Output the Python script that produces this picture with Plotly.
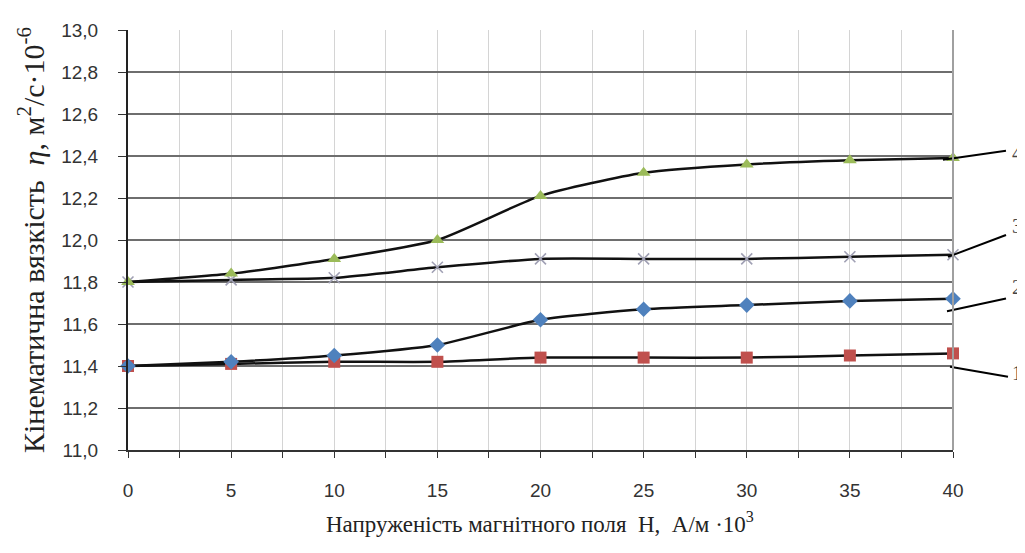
import plotly.graph_objects as go

# ---- data ----
H = [0, 5, 10, 15, 20, 25, 30, 35, 40]
s1 = [11.40, 11.41, 11.42, 11.42, 11.44, 11.44, 11.44, 11.45, 11.46]
s2 = [11.40, 11.42, 11.45, 11.50, 11.62, 11.67, 11.69, 11.71, 11.72]
s3 = [11.80, 11.81, 11.82, 11.87, 11.91, 11.91, 11.91, 11.92, 11.93]
s4 = [11.80, 11.84, 11.91, 12.00, 12.21, 12.32, 12.36, 12.38, 12.39]
curve_labels = ["1", "2", "3", "4"]
y_ticks = [11.0, 11.2, 11.4, 11.6, 11.8, 12.0, 12.2, 12.4, 12.6, 12.8, 13.0]
x_ticks = [0, 5, 10, 15, 20, 25, 30, 35, 40]

# page body has an 8px margin; size the figure so it fills the window
OFF = 8
W, Hh = 1025 - OFF, 553 - OFF
L, R, T, B = 128 - OFF, 72, 26 - OFF, 103
pw, ph = W - L - R, Hh - T - B

def px(x):
    return (x - OFF - L) / pw

def py(y):
    return (Hh - B - (y - OFF)) / ph

fig = go.Figure()

styles = [
    (s1, dict(symbol="square", size=12, color="#C0504D")),
    (s2, dict(symbol="diamond", size=12, color="#4F81BD")),
    (s3, dict(symbol="x-thin-open", size=11, color="#a0a0b4", line=dict(color="#a0a0b4", width=1.6))),
    (s4, dict(symbol="triangle-up", size=12, color="#9BBB59")),
]
for vals, mk in styles:
    fig.add_trace(go.Scatter(
        x=H, y=vals, mode="lines",
        line=dict(color="#111111", width=2.5, shape="spline", smoothing=0.6),
        showlegend=False, hoverinfo="skip"))
for vals, mk in styles:
    fig.add_trace(go.Scatter(
        x=H, y=vals, mode="markers", marker=mk,
        showlegend=False, cliponaxis=False))

# callouts
callouts = [
    ((950, 366), (1008, 376), (1010, 372)),
    ((947, 310), (1006, 297), (1010, 285)),
    ((948, 255), (1006, 233), (1010, 224)),
    ((943, 157), (1006, 148), (1010, 150)),
]
shapes = []
annots = []
for lab, (p0, p1, pt) in zip(curve_labels, callouts):
    shapes.append(dict(type="line", xref="paper", yref="paper",
                       x0=px(p0[0]), y0=py(p0[1]), x1=px(p1[0]), y1=py(p1[1]),
                       line=dict(color="#000000", width=2)))
    annots.append(dict(text=lab, xref="paper", yref="paper", x=px(pt[0]), y=py(pt[1]),
                       xanchor="left", yanchor="middle", showarrow=False,
                       font=dict(family="Liberation Serif", size=20, color="#444444")))

# right border
shapes.append(dict(type="line", xref="paper", yref="paper", x0=1, x1=1, y0=0, y1=1,
                   line=dict(color="#a0a0a0", width=2)))

annots.append(dict(text="Кінематична вязкість  <i>η</i>, м<sup>2</sup>/с·10<sup>-6</sup>",
                   xref="paper", yref="paper", x=px(31), y=py(238), textangle=-90,
                   showarrow=False, xanchor="center", yanchor="middle",
                   font=dict(family="Liberation Serif", size=30, color="#222222")))
annots.append(dict(text="Напруженість магнітного поля  Н,  А/м ·10<sup>3</sup>",
                   xref="paper", yref="paper", x=px(540), y=py(523),
                   showarrow=False, xanchor="center", yanchor="middle",
                   font=dict(family="Liberation Serif", size=23, color="#222222")))

fig.update_layout(
    width=W, height=Hh,
    margin=dict(l=L, r=R, t=T, b=B, pad=0),
    paper_bgcolor="white", plot_bgcolor="white",
    separators=", ",
    shapes=shapes, annotations=annots,
    font=dict(family="Liberation Sans", size=19, color="#333333"),
)
fig.update_xaxes(
    range=[0, 40], tickvals=x_ticks, ticktext=[str(v) for v in x_ticks],
    showgrid=True, gridcolor="#d4d4d4", gridwidth=1,
    minor=dict(dtick=2.5, tick0=0, showgrid=True, gridcolor="#d4d4d4", gridwidth=1,
               ticks="outside", ticklen=6, tickcolor="#333333"),
    showline=True, linecolor="#333333", linewidth=2,
    ticks="outside", ticklen=6, tickcolor="#333333", tickwidth=1,
    ticklabelstandoff=16, zeroline=False,
    tickfont=dict(family="Liberation Sans", size=19, color="#333333"),
)
fig.update_yaxes(
    range=[11.0, 13.0], tickvals=y_ticks, tickformat=".1f",
    showgrid=True, gridcolor="#6e6e6e", gridwidth=2,
    showline=True, linecolor="#222222", linewidth=2,
    ticks="outside", ticklen=8, tickcolor="#333333", tickwidth=1,
    ticklabelstandoff=16, zeroline=False,
    tickfont=dict(family="Liberation Sans", size=19, color="#333333"),
)

fig.write_html("out.html")
